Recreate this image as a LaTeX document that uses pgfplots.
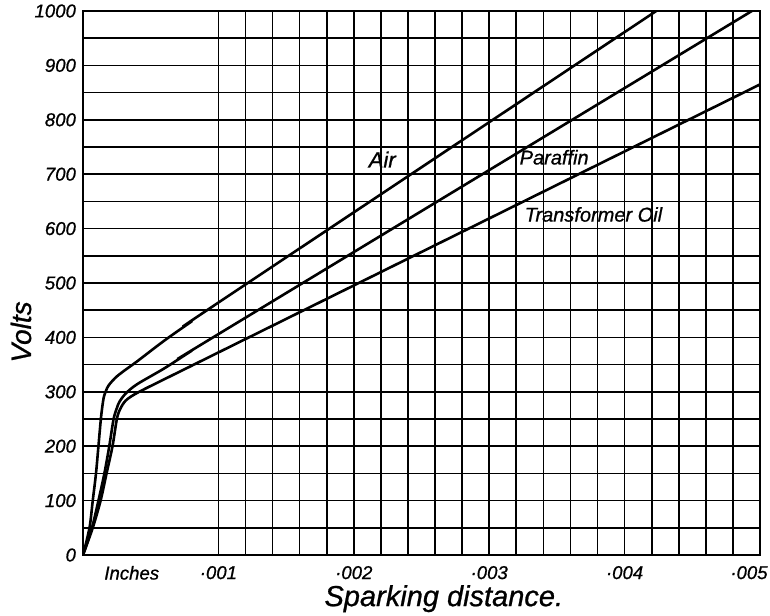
\documentclass[border=0pt]{standalone}
\usepackage{fontspec}
\setmainfont{Liberation Sans}[ItalicFeatures={FakeBold=0.8}]
\usepackage{pgfplots}
\pgfplotsset{compat=1.18}

\begin{document}
\begin{tikzpicture}[x=1pt,y=1pt]
\path[use as bounding box] (-41.5,-30) rectangle (343.5,277.5);
\begin{axis}[
  at={(0,0)}, anchor=south west,
  scale only axis, width=338.5pt, height=272pt,
  xmin=0, xmax=5, ymin=0, ymax=1000,
  axis line style={line width=1.4pt},
  xtick={1,2,3,4,5},
  xticklabels={·001,·002,·003,·004,\hspace*{-11pt}·005},
  minor x tick num=4,
  ytick={0,100,200,300,400,500,600,700,800,900,1000},
  yticklabels={0,100,200,300,400,500,600,700,800,900,\raisebox{-5pt}{1000}},
  minor y tick num=1,
  grid=both,
  major grid style={black, line width=0.85pt},
  minor grid style={black, line width=0.85pt},
  major tick length=0pt, minor tick length=0pt,
  /pgf/number format/assume math mode=true,
  extra x ticks={0.36},
  extra x tick labels={Inches},
  extra x tick style={grid=none, major tick length=0pt},
  tick label style={font=\fontsize{9.3}{11}\selectfont\itshape},
  xticklabel style={yshift=-2pt},
  xlabel={Sparking distance.},
  xlabel style={at={(axis description cs:0.533,-0.094)}, anchor=base, font=\fontsize{14.5}{17}\selectfont\itshape},
  ylabel={Volts},
  ylabel style={at={(axis description cs:-0.0916,0.41)}, anchor=center, font=\fontsize{14}{16}\selectfont\itshape},
]
% Air
\addplot[black, line width=1.3pt, smooth, tension=0.5] coordinates {
(0,0) (0.048,50) (0.072,100) (0.096,150) (0.114,200) (0.134,255) (0.152,288)
(0.17,302) (0.19,312) (0.24,326) (0.30,338) (0.40,356) (0.60,394) (0.80,429)
(1.00,464) (4.234,1000)
};
% Paraffin
\addplot[black, line width=1.3pt, smooth, tension=0.5] coordinates {
(0,0) (0.066,50) (0.114,100) (0.158,150) (0.194,200) (0.226,250) (0.25,270)
(0.27,282) (0.316,297) (0.4,314) (0.6,343) (0.8,375) (1.0,406) (4.94,1000)
};
% Transformer Oil
\addplot[black, line width=1.3pt, smooth, tension=0.5] coordinates {
(0,0) (0.072,50) (0.13,100) (0.174,150) (0.218,200) (0.25,250) (0.274,268)
(0.316,284) (0.4,298) (0.6,323) (0.8,347.6) (1.0,372.3) (5.0,865)
};
\node[font=\fontsize{11}{13}\selectfont\itshape] at (axis cs:2.21,727) {Air};
\node[font=\fontsize{10}{12}\selectfont\itshape] at (axis cs:3.48,731) {Paraffin};
\node[font=\fontsize{10}{12}\selectfont\itshape] at (axis cs:3.77,626) {Transformer Oil};
\end{axis}
\end{tikzpicture}
\end{document}
